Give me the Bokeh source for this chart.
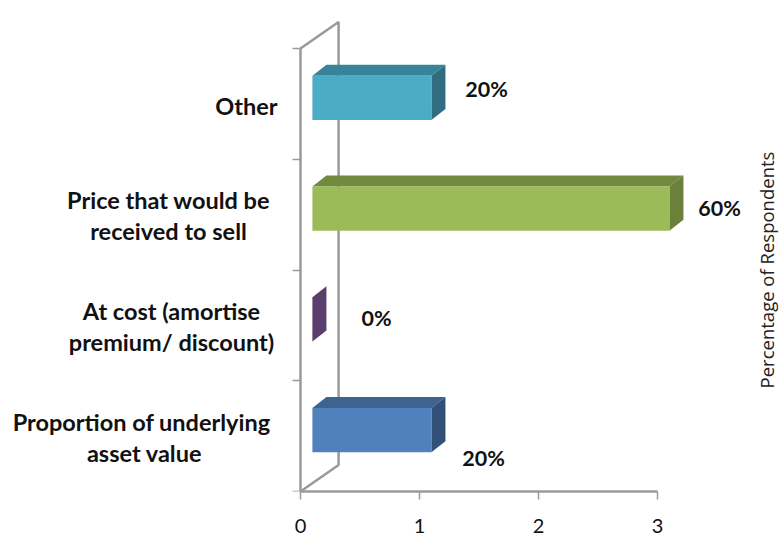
from bokeh.plotting import figure
from bokeh.embed import file_html
from bokeh.resources import INLINE
from bokeh.models import Range1d, FixedTicker, ColumnDataSource
from bokeh.core.properties import value
import math

categories = ["Proportion of  underlying\nasset value", "At cost (amortise\npremium/ discount)",
              "Price that would be\nreceived to sell", "Other"]
respondents = [1, 0, 3, 1]
percent_labels = ["20%", "0%", "60%", "20%"]
front_colors = ["#4F81BD", "#5A3F6E", "#9BBB59", "#4BACC6"]
top_colors = ["#3D6390", "#463056", "#718A3E", "#38839A"]
side_colors = ["#335079", "#5A3F6E", "#6A803B", "#316D80"]
x_ticks = [0, 1, 2, 3]
y_ticks = [0, 1, 2, 3, 4]

# styling / layout (pixels relative to the anchor of each mark)
pct_dx = [64, 76, 62, 67]
pct_dy = [22, -7, -7, -15]
cat_dx = [-156, -129, -132, -54]
cat_dy = [1, 1, 1, 2]
GREY = "#9A9A9A"
X0, Y_FLOOR = 300, 491
W, H = 779, 535
UX, UY = 119.0, 110.75
WALL_X, WALL_Y = 0.32, 0.24
BAR_X, BAR_Y = 0.1, 0.054
BAR_HALF = 0.2
DEPTH_X, DEPTH_Y = 0.118, 0.1

p = figure(width=W, height=H, output_backend="svg", toolbar_location=None,
           x_range=Range1d(-X0 / UX, (W - X0) / UX), y_range=Range1d(0, Y_FLOOR / UY),
           min_border_left=0, min_border_right=0, min_border_top=0,
           min_border_bottom=H - Y_FLOOR, outline_line_color=None)
p.grid.visible = False

ax = p.xaxis[0]
ax.ticker = FixedTicker(ticks=x_ticks)
ax.bounds = (x_ticks[0], x_ticks[-1])
ax.axis_line_color = GREY
ax.axis_line_width = 2.5
ax.major_tick_line_color = GREY
ax.major_tick_line_width = 1.5
ax.major_tick_in = 0
ax.major_tick_out = 8
ax.minor_tick_line_color = None
ax.major_label_standoff = 19
ax.major_label_text_font = "Lato"
ax.major_label_text_font_size = "20px"
ax.major_label_text_color = "#111111"

ay = p.yaxis[0]
ay.fixed_location = 0
ay.ticker = FixedTicker(ticks=y_ticks)
ay.bounds = (y_ticks[0], y_ticks[-1])
ay.axis_line_color = GREY
ay.axis_line_width = 2.5
ay.major_tick_line_color = GREY
ay.major_tick_line_width = 1.5
ay.major_tick_in = 0
ay.major_tick_out = 8
ay.minor_tick_line_color = None
ay.major_label_overrides = {t: "" for t in y_ticks}

# 3D wall and floor
top = y_ticks[-1]
p.line([0, WALL_X, WALL_X, 0], [top, top + WALL_Y, WALL_Y, 0], line_color=GREY, line_width=2.5)

# bars
for i, v in enumerate(respondents):
    c = i + 0.5 + BAR_Y
    x0, x1 = BAR_X, BAR_X + v
    y0, y1 = c - BAR_HALF, c + BAR_HALF
    if v > 0:
        p.patch([x0, x1, x1 + DEPTH_X, x0 + DEPTH_X], [y1, y1, y1 + DEPTH_Y, y1 + DEPTH_Y],
                fill_color=top_colors[i], line_color=None)
    p.patch([x1, x1 + DEPTH_X, x1 + DEPTH_X, x1], [y0, y0 + DEPTH_Y, y1 + DEPTH_Y, y1],
            fill_color=side_colors[i], line_color=None)
    if v > 0:
        p.quad(left=x0, right=x1, bottom=y0, top=y1, fill_color=front_colors[i], line_color=None)

src = ColumnDataSource(dict(
    x=respondents, zero=[0] * 4, y=[i + 0.5 for i in range(4)],
    pct=percent_labels, cat=categories, pdx=pct_dx, pdy=pct_dy, cdx=cat_dx, cdy=cat_dy))

p.text(x="x", y="y", text="pct", x_offset="pdx", y_offset="pdy", source=src,
       text_font=value("Lato"), text_font_style="bold", text_font_size="21.5px",
       text_align="center", text_baseline="middle", text_color="#111111")
p.text(x="zero", y="y", text="cat", x_offset="cdx", y_offset="cdy", source=src,
       text_font=value("Lato"), text_font_style="bold", text_font_size="23.5px",
       text_align="center", text_baseline="middle", text_color="#111111", text_line_height=1.1)
p.text(x=[3.92], y=[2.0], text=["Percentage of Respondents"], angle=math.pi / 2,
       text_font=value("Open Sans"), text_font_size="18.5px",
       text_align="center", text_baseline="middle", text_color="#222222")

open("out.html", "w").write(file_html(p, INLINE))
